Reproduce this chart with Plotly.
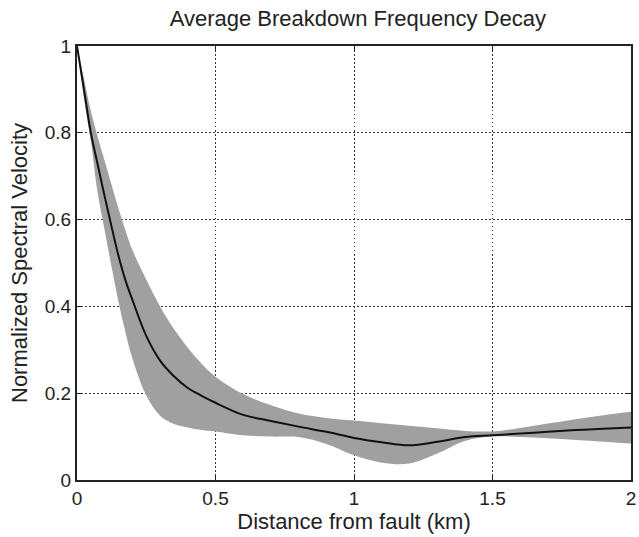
import plotly.graph_objects as go

distance_km = [0, 0.025, 0.05, 0.075, 0.1, 0.125, 0.15, 0.175, 0.2, 0.25, 0.3, 0.35, 0.4, 0.45,
               0.5, 0.6, 0.7, 0.8, 0.9, 1.0, 1.1, 1.2, 1.3, 1.4, 1.5, 1.6, 1.7, 1.8, 1.9, 2.0]
mean_velocity = [1.0, 0.9, 0.80, 0.726, 0.653, 0.583, 0.516, 0.46, 0.415, 0.332, 0.275, 0.239, 0.212, 0.194,
                 0.178, 0.150, 0.136, 0.123, 0.111, 0.097, 0.087, 0.080, 0.088, 0.099, 0.103, 0.107,
                 0.111, 0.115, 0.118, 0.121]
upper_velocity = [1.0, 0.925, 0.85, 0.79, 0.735, 0.68, 0.625, 0.575, 0.53, 0.462, 0.40, 0.348, 0.305, 0.268,
                  0.238, 0.198, 0.172, 0.153, 0.143, 0.137, 0.131, 0.125, 0.119, 0.113, 0.112, 0.120,
                  0.130, 0.140, 0.149, 0.157]
lower_velocity = [1.0, 0.88, 0.78, 0.66, 0.575, 0.49, 0.41, 0.34, 0.28, 0.195, 0.148, 0.129, 0.121, 0.115,
                  0.112, 0.103, 0.100, 0.099, 0.083, 0.057, 0.040, 0.038, 0.061, 0.090, 0.100, 0.099,
                  0.096, 0.092, 0.088, 0.084]

x_ticks = [0, 0.5, 1, 1.5, 2]
x_tick_labels = ["0", "0.5", "1", "1.5", "2"]
y_ticks = [0, 0.2, 0.4, 0.6, 0.8, 1]
y_tick_labels = ["0", "0.2", "0.4", "0.6", "0.8", "1"]

font_family = "Liberation Sans, Arial, sans-serif"
text_color = "#222222"

fig = go.Figure()
fig.add_trace(go.Scatter(x=distance_km, y=upper_velocity, mode="lines", line_shape="spline",
                         line=dict(width=0, color="#a0a0a0"), showlegend=False, hoverinfo="skip"))
fig.add_trace(go.Scatter(x=distance_km, y=lower_velocity, mode="lines", fill="tonexty", line_shape="spline",
                         fillcolor="#a0a0a0", line=dict(width=0, color="#a0a0a0"),
                         showlegend=False, hoverinfo="skip"))
fig.add_trace(go.Scatter(x=distance_km, y=mean_velocity, mode="lines", line_shape="spline",
                         line=dict(color="#111111", width=2), showlegend=False))

axis_common = dict(
    showline=True, linecolor="#222222", linewidth=2, mirror="ticks",
    ticks="inside", ticklen=5, tickwidth=1, tickcolor="#222222",
    showgrid=True, gridcolor="#333333", griddash="1.5px,2.5px", gridwidth=1,
    zeroline=False, ticklabeloverflow="allow",
    tickfont=dict(family=font_family, size=19, color=text_color),
)

fig.update_layout(
    width=639, height=537,
    margin=dict(l=77, r=3, t=46, b=57),
    paper_bgcolor="white", plot_bgcolor="white",
    title=dict(text="Average Breakdown Frequency Decay", x=0.56, xanchor="center",
               y=1 - 18 / 537, yanchor="middle",
               font=dict(family=font_family, size=22, color=text_color)),
    xaxis=dict(range=[0, 2], tickvals=x_ticks, ticktext=x_tick_labels,
               title=dict(text="Distance from fault (km)", standoff=3,
                          font=dict(family=font_family, size=22, color=text_color)),
               **axis_common),
    yaxis=dict(range=[0, 1], tickvals=y_ticks, ticktext=y_tick_labels,
               title=dict(text="Normalized Spectral Velocity", standoff=11,
                          font=dict(family=font_family, size=22, color=text_color)),
               **axis_common),
)

fig.write_html("out.html")
